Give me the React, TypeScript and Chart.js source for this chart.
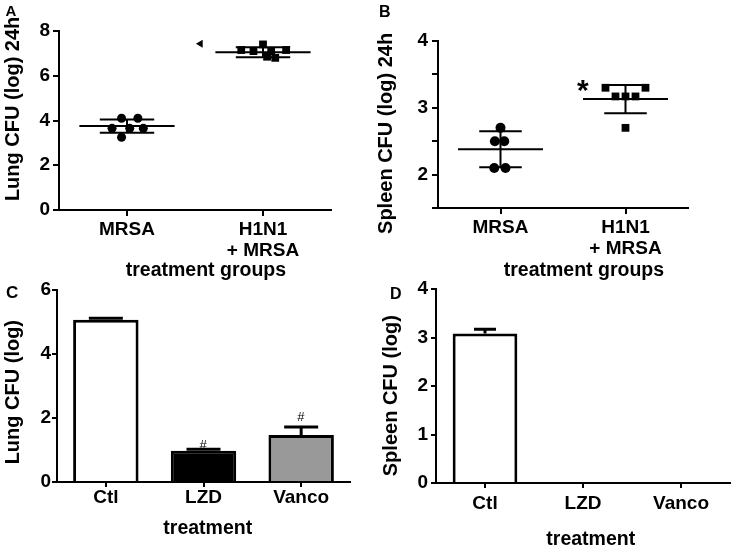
import React, { useEffect, useRef } from 'react';
import { Chart, registerables } from 'chart.js';

Chart.register(...registerables);

const FONT = "'Liberation Sans', Arial, Helvetica, sans-serif";

// ---------- Panel A: lung CFU 24h ----------
const groupLabels: (string | string[])[] = ['MRSA', ['H1N1', '+ MRSA']];
const lungMrsa = [4.1, 4.1, 3.65, 3.65, 3.65, 3.25];
const lungMrsaX = [-0.04, 0.08, -0.11, 0.02, 0.12, -0.04];
const lungH1n1 = [7.4, 7.15, 7.1, 7.1, 7.15, 6.85, 6.8];
const lungH1n1X = [0, -0.16, -0.07, 0.06, 0.17, 0.03, 0.09];
const lungMean = [3.75, 7.05];
const lungSd = [0.3, 0.22];
const lungTriangle = { x: 0.54, y: 7.43 };

// ---------- Panel B: spleen CFU 24h ----------
const spleenMrsa = [2.7, 2.5, 2.5, 2.1, 2.1];
const spleenMrsaX = [0, -0.045, 0.03, -0.05, 0.04];
const spleenH1n1 = [3.3, 3.3, 3.17, 3.17, 3.17, 2.7];
const spleenH1n1X = [-0.16, 0.16, -0.08, 0, 0.08, 0];
const spleenMean = [2.38, 3.13];
const spleenSd = [0.27, 0.21];
const spleenStar = { x: 0.66, y: 3.33 };

// ---------- Panels C, D: treatment ----------
const treatments = ['Ctl', 'LZD', 'Vanco'];
const lungTx = [5.07, 0.98, 1.47];
const lungTxErr = [0.05, 0.04, 0.25];
const lungTxMarkY: (number | null)[] = [null, 1.16, 2.06];
const spleenTx = [3.08, 0, 0];
const spleenTxErr = [0.09, 0, 0];

type TextItem = { text: string; x: number; y: number; size: number; rot?: number; weight?: string };

function inkText(ctx: CanvasRenderingContext2D, text: string, x: number, y: number, size: number, weight: string, rot = 0) {
  ctx.save();
  ctx.translate(x, y);
  if (rot) ctx.rotate(rot);
  ctx.font = `${weight} ${size}px ${FONT}`;
  ctx.textAlign = 'left';
  ctx.textBaseline = 'alphabetic';
  const m = ctx.measureText(text);
  const w = m.actualBoundingBoxLeft + m.actualBoundingBoxRight;
  const h = m.actualBoundingBoxAscent + m.actualBoundingBoxDescent;
  ctx.fillStyle = '#000';
  ctx.fillText(text, -w / 2 + m.actualBoundingBoxLeft, h / 2 - m.actualBoundingBoxDescent);
  ctx.restore();
}

function textPlugin(items: TextItem[]) {
  return {
    id: 'pageTexts',
    afterDraw(chart: any) {
      const ctx = chart.ctx;
      for (const it of items) inkText(ctx, it.text, it.x, it.y, it.size, it.weight ?? 'bold', it.rot ?? 0);
    },
  };
}

function meanSdPlugin(means: number[], sds: number[], meanHalf: number, whiskHalf: number) {
  return {
    id: 'meanSd',
    afterDatasetsDraw(chart: any) {
      const xs = chart.scales.x;
      const ys = chart.scales.y;
      const ctx = chart.ctx;
      const unit = xs.getPixelForValue(1) - xs.getPixelForValue(0);
      ctx.save();
      ctx.strokeStyle = '#000';
      ctx.lineWidth = 2;
      means.forEach((m, i) => {
        const cx = xs.getPixelForValue(i);
        const ym = ys.getPixelForValue(m);
        const yt = ys.getPixelForValue(m + sds[i]);
        const yb = ys.getPixelForValue(m - sds[i]);
        ctx.beginPath();
        ctx.moveTo(cx - meanHalf * unit, ym);
        ctx.lineTo(cx + meanHalf * unit, ym);
        ctx.moveTo(cx - whiskHalf * unit, yt);
        ctx.lineTo(cx + whiskHalf * unit, yt);
        ctx.moveTo(cx - whiskHalf * unit, yb);
        ctx.lineTo(cx + whiskHalf * unit, yb);
        ctx.moveTo(cx, yt);
        ctx.lineTo(cx, yb);
        ctx.stroke();
      });
      ctx.restore();
    },
  };
}

function dataTextPlugin(items: { text: string; x: number; y: number; size: number; weight: string }[]) {
  return {
    id: 'dataTexts',
    afterDatasetsDraw(chart: any) {
      const xs = chart.scales.x;
      const ys = chart.scales.y;
      for (const it of items) {
        inkText(chart.ctx, it.text, xs.getPixelForValue(it.x), ys.getPixelForValue(it.y), it.size, it.weight);
      }
    },
  };
}

function barErrPlugin(values: number[], errs: number[], capHalf: number, marks: (number | null)[], markSize: number) {
  return {
    id: 'barErr',
    afterDatasetsDraw(chart: any) {
      const ys = chart.scales.y;
      const ctx = chart.ctx;
      const meta = chart.getDatasetMeta(0);
      ctx.save();
      ctx.strokeStyle = '#000';
      ctx.lineWidth = 3;
      meta.data.forEach((bar: any, i: number) => {
        const cx = bar.x;
        if (errs[i] > 0) {
          const yTop = ys.getPixelForValue(values[i]);
          const yErr = ys.getPixelForValue(values[i] + errs[i]);
          ctx.beginPath();
          ctx.moveTo(cx, yTop);
          ctx.lineTo(cx, yErr);
          ctx.moveTo(cx - capHalf, yErr);
          ctx.lineTo(cx + capHalf, yErr);
          ctx.stroke();
        }
        const my = marks[i];
        if (my != null) inkText(ctx, '#', cx, ys.getPixelForValue(my), markSize, 'normal');
      });
      ctx.restore();
    },
  };
}

const tickFont = { family: FONT, size: 19, weight: 'bold' as const, lineHeight: 1.1 };

function axisX(extra: any, tickPad: number, tickLen: number) {
  return {
    grid: { drawOnChartArea: false, tickLength: tickLen, color: '#000', lineWidth: 2, offset: false },
    border: { color: '#000', width: 2 },
    ticks: { font: tickFont, color: '#000', padding: tickPad, maxRotation: 0, autoSkip: false },
    afterFit: (s: any) => {
      s.height = 60;
    },
    ...extra,
  };
}

function axisY(min: number, max: number, step: number, tickPad: number, tickLen: number, cb?: (v: number) => string) {
  return {
    min,
    max,
    grid: { drawOnChartArea: false, tickLength: tickLen, color: '#000', lineWidth: 2 },
    border: { color: '#000', width: 2 },
    ticks: {
      stepSize: step,
      font: tickFont,
      color: '#000',
      padding: tickPad,
      callback: cb ?? ((v: number) => String(v)),
    },
    afterFit: (s: any) => {
      s.width = 50;
    },
  };
}

// layout: chart area edges in page coordinates -> padding
function pad(left: number, top: number, right: number, bottom: number) {
  return { left: left - 50, top, right: 733 - right, bottom: 546 - bottom - 60 };
}

const baseOpts = {
  responsive: true,
  maintainAspectRatio: false,
  animation: false as const,
  events: [] as any[],
};

const pt = (xs: number[], ys: number[], base: number) => ys.map((v, i) => ({ x: base + xs[i], y: v }));

function configA(): any {
  return {
    type: 'scatter',
    data: {
      datasets: [
        { data: pt(lungMrsaX, lungMrsa, 0), pointStyle: 'circle', pointRadius: 4.5, pointBackgroundColor: '#000', pointBorderWidth: 0 },
        { data: pt(lungH1n1X, lungH1n1, 1), pointStyle: 'rect', pointRadius: 5.5, pointBackgroundColor: '#000', pointBorderWidth: 0 },
        { data: [lungTriangle], pointStyle: 'triangle', pointRotation: 270, pointRadius: 4.5, pointBackgroundColor: '#000', pointBorderWidth: 0 },
      ],
    },
    options: {
      ...baseOpts,
      layout: { padding: pad(59, 31, 331, 210) },
      plugins: { legend: { display: false }, tooltip: { enabled: false } },
      scales: {
        x: axisX(
          {
            type: 'linear',
            min: -0.5,
            max: 1.5,
            afterBuildTicks: (s: any) => {
              s.ticks = [{ value: 0 }, { value: 1 }];
            },
            ticks: { font: tickFont, color: '#000', padding: 3, maxRotation: 0, autoSkip: false, callback: (v: number) => groupLabels[v] },
          },
          3,
          6
        ),
        y: axisY(0, 8, 2, 3, 6),
      },
    },
    plugins: [
      meanSdPlugin(lungMean, lungSd, 0.35, 0.2),
      textPlugin([
        { text: 'A', x: 11, y: 10.5, size: 15 },
        { text: 'Lung CFU (log) 24h', x: 13.5, y: 109, size: 20, rot: -Math.PI / 2 },
        { text: 'treatment groups', x: 206, y: 271, size: 19.5 },
      ]),
    ],
  };
}

function configB(): any {
  return {
    type: 'scatter',
    data: {
      datasets: [
        { data: pt(spleenMrsaX, spleenMrsa, 0), pointStyle: 'circle', pointRadius: 5, pointBackgroundColor: '#000', pointBorderWidth: 0 },
        { data: pt(spleenH1n1X, spleenH1n1, 1), pointStyle: 'rect', pointRadius: 5.5, pointBackgroundColor: '#000', pointBorderWidth: 0 },
      ],
    },
    options: {
      ...baseOpts,
      layout: { padding: pad(438, 41, 688, 208) },
      plugins: { legend: { display: false }, tooltip: { enabled: false } },
      scales: {
        x: axisX(
          {
            type: 'linear',
            min: -0.5,
            max: 1.5,
            afterBuildTicks: (s: any) => {
              s.ticks = [{ value: 0 }, { value: 1 }];
            },
            ticks: { font: tickFont, color: '#000', padding: 3, maxRotation: 0, autoSkip: false, callback: (v: number) => groupLabels[v] },
          },
          3,
          6
        ),
        y: axisY(1.5, 4, 0.5, 4, 6, (v: number) => (Number.isInteger(v) ? String(v) : '')),
      },
    },
    plugins: [
      meanSdPlugin(spleenMean, spleenSd, 0.34, 0.17),
      dataTextPlugin([{ text: '*', x: spleenStar.x, y: spleenStar.y, size: 30, weight: 'bold' }]),
      textPlugin([
        { text: 'B', x: 385, y: 11, size: 16 },
        { text: 'Spleen CFU (log) 24h', x: 386, y: 134, size: 20, rot: -Math.PI / 2 },
        { text: 'treatment groups', x: 584, y: 271, size: 19.5 },
      ]),
    ],
  };
}

function configC(): any {
  return {
    type: 'bar',
    data: {
      labels: treatments,
      datasets: [
        {
          data: lungTx,
          backgroundColor: ['#ffffff', '#000000', '#999999'],
          borderColor: '#000',
          borderWidth: 3,
          borderSkipped: 'start',
          barPercentage: 0.67,
          categoryPercentage: 1,
        },
      ],
    },
    options: {
      ...baseOpts,
      layout: { padding: pad(57, 290, 350, 482) },
      plugins: { legend: { display: false }, tooltip: { enabled: false } },
      scales: {
        x: axisX({}, 0, 5),
        y: axisY(0, 6, 2, 1, 5),
      },
    },
    plugins: [
      barErrPlugin(lungTx, lungTxErr, 17, lungTxMarkY, 13),
      textPlugin([
        { text: 'C', x: 12, y: 291.5, size: 17 },
        { text: 'Lung CFU (log)', x: 13, y: 392, size: 20, rot: -Math.PI / 2 },
        { text: 'treatment', x: 208, y: 527, size: 19.5 },
      ]),
    ],
  };
}

function configD(): any {
  return {
    type: 'bar',
    data: {
      labels: treatments,
      datasets: [
        {
          data: spleenTx,
          backgroundColor: '#ffffff',
          borderColor: '#000',
          borderWidth: 3,
          borderSkipped: 'start',
          barPercentage: 0.66,
          categoryPercentage: 1,
        },
      ],
    },
    options: {
      ...baseOpts,
      layout: { padding: pad(436, 289, 730, 483) },
      plugins: { legend: { display: false }, tooltip: { enabled: false } },
      scales: {
        x: axisX({}, 5, 5),
        y: axisY(0, 4, 1, 3, 5),
      },
    },
    plugins: [
      barErrPlugin(spleenTx, spleenTxErr, 11, [null, null, null], 13),
      textPlugin([
        { text: 'D', x: 396, y: 292.5, size: 16 },
        { text: 'Spleen CFU (log)', x: 391, y: 396, size: 20, rot: -Math.PI / 2 },
        { text: 'treatment', x: 591, y: 538, size: 19.5 },
      ]),
    ],
  };
}

function Layer({ make }: { make: () => any }) {
  const ref = useRef<HTMLCanvasElement | null>(null);
  useEffect(() => {
    if (!ref.current) return;
    const chart = new Chart(ref.current, make());
    return () => chart.destroy();
  }, [make]);
  return (
    <div style={{ position: 'absolute', left: 0, top: 0, width: 733, height: 546 }}>
      <canvas ref={ref} />
    </div>
  );
}

export default function App() {
  return (
    <div style={{ position: 'fixed', left: 0, top: 0, width: 733, height: 546, background: '#fff', overflow: 'hidden' }}>
      <Layer make={configA} />
      <Layer make={configB} />
      <Layer make={configC} />
      <Layer make={configD} />
    </div>
  );
}
